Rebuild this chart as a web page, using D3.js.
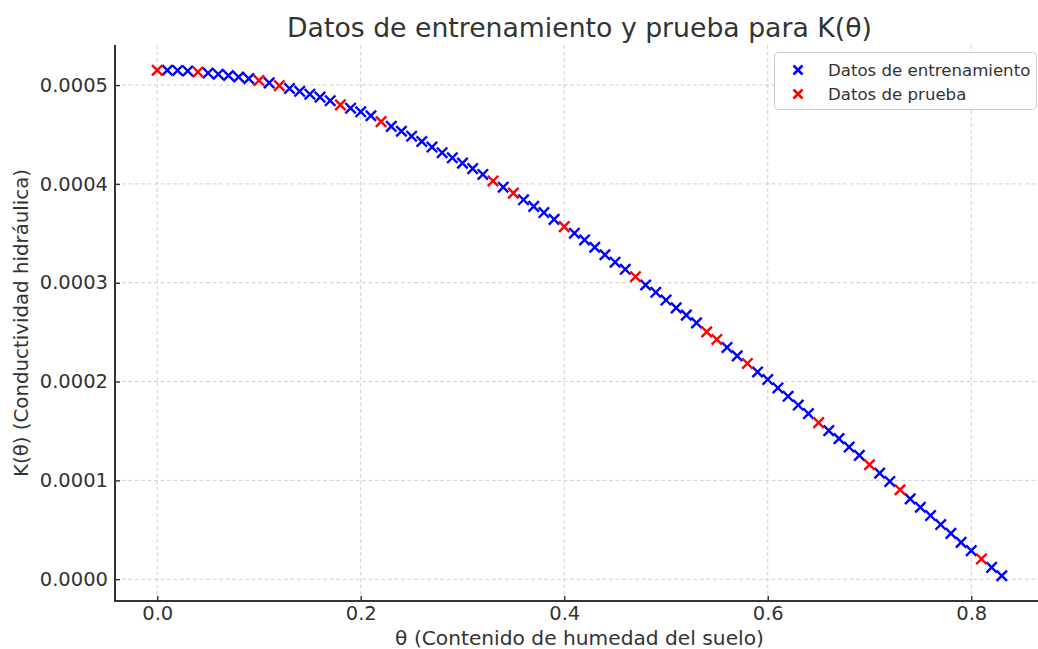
<!DOCTYPE html>
<html>
<head>
<meta charset="utf-8">
<script src="https://cdn.jsdelivr.net/npm/d3@7"></script>
<style>
  html, body { margin: 0; padding: 0; background: #fff; overflow: hidden; }
  svg { display: block; font-family: "DejaVu Sans", sans-serif; }
</style>
</head>
<body>
<svg id="chart" width="1038" height="649"></svg>
<script>
// Training samples: soil moisture θ and hydraulic conductivity K(θ)
const trainTheta = [0.01, 0.02, 0.03, 0.05, 0.06, 0.07, 0.08, 0.09, 0.11, 0.13, 0.14, 0.15, 0.16, 0.17,
  0.19, 0.20, 0.21, 0.23, 0.24, 0.25, 0.26, 0.27, 0.28, 0.29, 0.30, 0.31, 0.32, 0.34, 0.36, 0.37,
  0.38, 0.39, 0.41, 0.42, 0.43, 0.44, 0.45, 0.46, 0.48, 0.49, 0.50, 0.51, 0.52, 0.53, 0.56, 0.57,
  0.59, 0.60, 0.61, 0.62, 0.63, 0.64, 0.66, 0.67, 0.68, 0.69, 0.71, 0.72, 0.74, 0.75, 0.76, 0.77,
  0.78, 0.79, 0.80, 0.82, 0.83];
const trainK = [0.0005150, 0.0005148, 0.0005143, 0.0005122, 0.0005110, 0.0005097, 0.0005082, 0.0005065,
  0.0005022, 0.0004966, 0.0004937, 0.0004908, 0.0004878, 0.0004842,
  0.0004766, 0.0004730, 0.0004690, 0.0004582, 0.0004533, 0.0004483, 0.0004429, 0.0004373, 0.0004316,
  0.0004264, 0.0004210, 0.0004155, 0.0004096, 0.0003967, 0.0003839, 0.0003773,
  0.0003710, 0.0003641, 0.0003501, 0.0003433, 0.0003359, 0.0003283, 0.0003208, 0.0003136, 0.0002977,
  0.0002903, 0.0002825, 0.0002746, 0.0002672, 0.0002594, 0.0002345, 0.0002260,
  0.0002097, 0.0002020, 0.0001935, 0.0001851, 0.0001762, 0.0001675, 0.0001503, 0.0001422, 0.0001337,
  0.0001253, 0.0001073, 0.0000989, 0.0000813, 0.0000728, 0.0000644, 0.0000553,
  0.0000464, 0.0000373, 0.0000289, 0.0000120, 0.0000035];

// Test samples
const testTheta = [0.00, 0.04, 0.10, 0.12, 0.18, 0.22, 0.33, 0.35, 0.40, 0.47, 0.54, 0.55, 0.58, 0.65,
  0.70, 0.73, 0.81];
const testK = [0.0005150, 0.0005133, 0.0005046, 0.0004995, 0.0004800, 0.0004630, 0.0004030, 0.0003907,
  0.0003568, 0.0003061, 0.0002503, 0.0002426, 0.0002183, 0.0001584, 0.0001158, 0.0000905, 0.0000205];

const xTicks = [0.0, 0.2, 0.4, 0.6, 0.8];
const yTicks = [0.0000, 0.0001, 0.0002, 0.0003, 0.0004, 0.0005];

const seriesNames = ["Datos de entrenamiento", "Datos de prueba"];
const seriesColors = ["#0000ff", "#ff0000"];

const svg = d3.select("#chart");
const plot = { left: 115, top: 45, right: 1044, bottom: 601 };

// Axis limits with 5% margins around the data
const allTheta = trainTheta.concat(testTheta);
const allK = trainK.concat(testK);
const [tMin, tMax] = d3.extent(allTheta);
const [kMin, kMax] = d3.extent(allK);
const tPad = (tMax - tMin) * 0.05, kPad = (kMax - kMin) * 0.05;

const x = d3.scaleLinear().domain([tMin - tPad, tMax + tPad]).range([plot.left, plot.right]);
const y = d3.scaleLinear().domain([kMin - kPad, kMax + kPad]).range([plot.bottom, plot.top]);

const textColor = "#333333";
const gridColor = "#d0d0d0";

// Grid
const grid = svg.append("g");
grid.selectAll("line.gx").data(xTicks).join("line")
  .attr("x1", d => x(d)).attr("x2", d => x(d))
  .attr("y1", plot.top).attr("y2", plot.bottom)
  .attr("stroke", gridColor).attr("stroke-width", 1).attr("stroke-dasharray", "4,2.5");
grid.selectAll("line.gy").data(yTicks).join("line")
  .attr("x1", plot.left).attr("x2", plot.right)
  .attr("y1", d => y(d)).attr("y2", d => y(d))
  .attr("stroke", gridColor).attr("stroke-width", 1).attr("stroke-dasharray", "4,2.5");

// Axes (ticks point inward)
const xAxis = svg.append("g").attr("transform", `translate(0,${plot.bottom})`)
  .call(d3.axisBottom(x).tickValues(xTicks).tickFormat(d3.format(".1f")).tickSizeInner(-5).tickSizeOuter(0).tickPadding(5.5));
const yAxis = svg.append("g").attr("transform", `translate(${plot.left},0)`)
  .call(d3.axisLeft(y).tickValues(yTicks).tickFormat(d3.format(".4f")).tickSizeInner(-5).tickSizeOuter(0).tickPadding(7));

[xAxis, yAxis].forEach(g => {
  g.select(".domain").remove();
  g.selectAll(".tick line").attr("stroke", textColor).attr("stroke-width", 1.4);
  g.selectAll(".tick text").attr("fill", textColor).attr("font-size", 19.5)
    .attr("font-family", "DejaVu Sans");
});

// Spines: left and bottom only
svg.append("line").attr("x1", plot.left).attr("x2", plot.left).attr("y1", plot.top).attr("y2", plot.bottom + 1)
  .attr("stroke", textColor).attr("stroke-width", 2);
svg.append("line").attr("x1", plot.left - 1).attr("x2", 1038).attr("y1", plot.bottom).attr("y2", plot.bottom)
  .attr("stroke", textColor).attr("stroke-width", 2);

// "x" markers
const ms = 5.2;
const xMark = "M" + (-ms) + "," + (-ms) + "L" + ms + "," + ms + "M" + (-ms) + "," + ms + "L" + ms + "," + (-ms);

function drawSeries(thetas, ks, color) {
  svg.append("g").selectAll("path").data(thetas).join("path")
    .attr("d", xMark)
    .attr("transform", (d, i) => `translate(${x(d)},${y(ks[i])})`)
    .attr("fill", "none").attr("stroke", color).attr("stroke-width", 2.4);
}
drawSeries(trainTheta, trainK, seriesColors[0]);
drawSeries(testTheta, testK, seriesColors[1]);

// Title and axis labels
svg.append("text").attr("x", (plot.left + plot.right) / 2).attr("y", 37)
  .attr("text-anchor", "middle").attr("fill", textColor).attr("font-size", 26.7)
  .text("Datos de entrenamiento y prueba para K(θ)");
svg.append("text").attr("x", (plot.left + plot.right) / 2).attr("y", 645)
  .attr("text-anchor", "middle").attr("fill", textColor).attr("font-size", 20.2)
  .text("θ (Contenido de humedad del suelo)");
svg.append("text").attr("transform", `translate(28,${(plot.top + plot.bottom) / 2}) rotate(-90)`)
  .attr("text-anchor", "middle").attr("fill", textColor).attr("font-size", 19.8)
  .text("K(θ) (Conductividad hidráulica)");

// Legend
const legend = svg.append("g");
legend.append("rect").attr("x", 774.5).attr("y", 52.5).attr("width", 262).attr("height", 57)
  .attr("rx", 4).attr("fill", "#ffffff").attr("fill-opacity", 0.85)
  .attr("stroke", "#cccccc").attr("stroke-width", 1);
seriesNames.forEach((name, i) => {
  const cy = 70 + i * 24;
  legend.append("path").attr("d", "M-4.5,-4.5L4.5,4.5M-4.5,4.5L4.5,-4.5")
    .attr("transform", `translate(798,${cy})`)
    .attr("fill", "none").attr("stroke", seriesColors[i]).attr("stroke-width", 2.6);
  legend.append("text").attr("x", 828).attr("y", cy + 6)
    .attr("fill", textColor).attr("font-size", 16.6).text(name);
});
</script>
</body>
</html>
